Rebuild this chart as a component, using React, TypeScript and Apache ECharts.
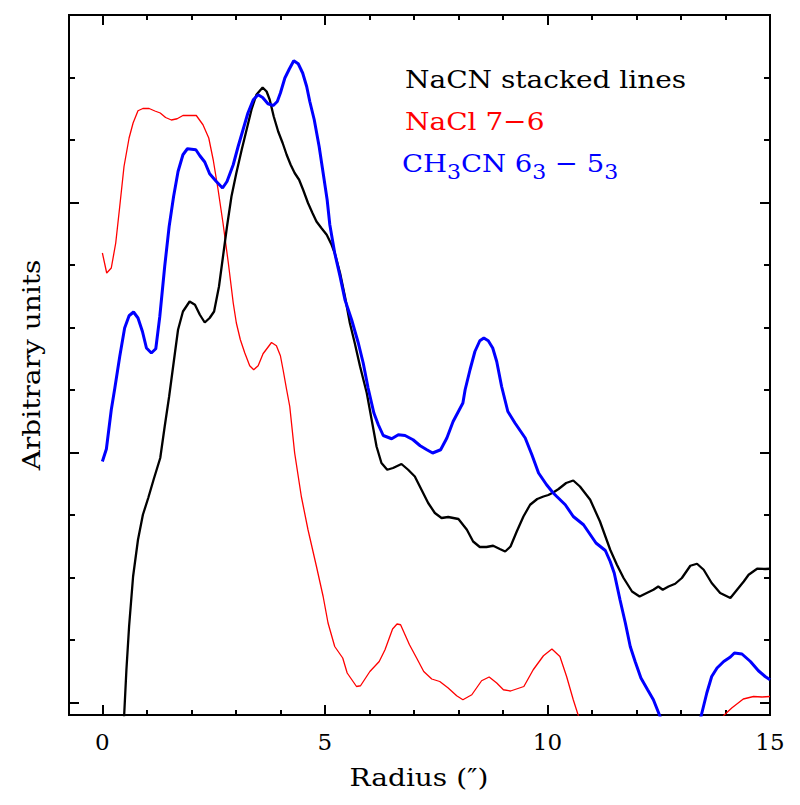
import React, { useEffect, useRef } from 'react';
import * as echarts from 'echarts';

const xMajorTicks = [0, 5, 10, 15];
const xMinorTicks = [0, 1, 2, 3, 4, 5, 6, 7, 8, 9, 10, 11, 12, 13, 14, 15];
const yMajorTicks = [0, 1, 2];
const yMinorTicks = [0, 0.25, 0.5, 0.75, 1, 1.25, 1.5, 1.75, 2, 2.25, 2.5];

const legendNaCN = 'NaCN stacked lines';
const legendNaCl = 'NaCl 7\u22126';
const xTitle = 'Radius (\u2033)';
const yTitle = 'Arbitrary units';

const nacnLine: number[][] = [
  [0.35, -0.5], [0.49, -0.049], [0.54, 0.131], [0.6, 0.304], [0.69, 0.504], [0.8, 0.651], [0.91, 0.751],
  [1.03, 0.818], [1.15, 0.891], [1.3, 0.978], [1.4, 1.104], [1.5, 1.224], [1.63, 1.398], [1.7, 1.491],
  [1.81, 1.564], [1.96, 1.604], [2.08, 1.591], [2.19, 1.551], [2.3, 1.52], [2.41, 1.538], [2.51, 1.564],
  [2.62, 1.664], [2.71, 1.784], [2.8, 1.904], [2.9, 2.024], [3.01, 2.118], [3.13, 2.211], [3.24, 2.291],
  [3.35, 2.371], [3.46, 2.431], [3.6, 2.46], [3.69, 2.444], [3.76, 2.411], [3.85, 2.344], [3.95, 2.284],
  [4.05, 2.238], [4.14, 2.191], [4.23, 2.151], [4.32, 2.118], [4.42, 2.091], [4.51, 2.051], [4.62, 1.998],
  [4.72, 1.958], [4.81, 1.924], [4.92, 1.898], [5.04, 1.871], [5.15, 1.831], [5.22, 1.798], [5.34, 1.718],
  [5.45, 1.624], [5.56, 1.518], [5.67, 1.438], [5.79, 1.344], [5.94, 1.238], [6.05, 1.131], [6.16, 1.024],
  [6.27, 0.958], [6.4, 0.931], [6.53, 0.938], [6.72, 0.954], [6.87, 0.931], [7.02, 0.904], [7.17, 0.851],
  [7.32, 0.798], [7.47, 0.758], [7.62, 0.738], [7.77, 0.742], [8.0, 0.734], [8.19, 0.691], [8.33, 0.644],
  [8.48, 0.622], [8.63, 0.622], [8.78, 0.627], [8.93, 0.614], [9.05, 0.604], [9.17, 0.624], [9.31, 0.684],
  [9.46, 0.744], [9.61, 0.791], [9.77, 0.814], [9.91, 0.824], [10.02, 0.83], [10.13, 0.84], [10.25, 0.854],
  [10.42, 0.878], [10.58, 0.888], [10.73, 0.864], [10.96, 0.811], [11.18, 0.724], [11.41, 0.611],
  [11.56, 0.551], [11.71, 0.498], [11.9, 0.444], [12.07, 0.424], [12.23, 0.438], [12.38, 0.451],
  [12.49, 0.464], [12.59, 0.451], [12.72, 0.464], [12.87, 0.475], [13.02, 0.498], [13.21, 0.547],
  [13.36, 0.555], [13.51, 0.531], [13.69, 0.478], [13.88, 0.438], [14.11, 0.418], [14.26, 0.451],
  [14.41, 0.484], [14.52, 0.511], [14.71, 0.535], [14.89, 0.534], [15, 0.535],
];

const naclLine: number[][] = [
  [0, 1.798], [0.097, 1.718], [0.2, 1.738], [0.3, 1.838], [0.39, 1.984], [0.486, 2.144], [0.6, 2.258],
  [0.69, 2.318], [0.8, 2.367], [0.91, 2.376], [1.05, 2.376], [1.18, 2.366], [1.3, 2.358], [1.42, 2.34],
  [1.55, 2.33], [1.68, 2.335], [1.81, 2.348], [1.96, 2.348], [2.11, 2.348], [2.26, 2.311], [2.39, 2.258],
  [2.49, 2.171], [2.6, 2.051], [2.71, 1.918], [2.83, 1.758], [2.94, 1.598], [3.01, 1.518], [3.1, 1.451],
  [3.2, 1.398], [3.31, 1.347], [3.4, 1.331], [3.5, 1.347], [3.61, 1.395], [3.8, 1.44], [3.91, 1.427],
  [4.0, 1.387], [4.06, 1.331], [4.14, 1.251], [4.21, 1.184], [4.32, 0.998], [4.47, 0.824], [4.62, 0.691],
  [4.81, 0.544], [4.96, 0.424], [5.07, 0.318], [5.22, 0.224], [5.4, 0.178], [5.5, 0.118], [5.71, 0.064],
  [5.8, 0.067], [6.01, 0.124], [6.22, 0.164], [6.35, 0.211], [6.52, 0.294], [6.62, 0.314], [6.7, 0.311],
  [6.9, 0.231], [7.06, 0.178], [7.22, 0.124], [7.4, 0.094], [7.58, 0.084], [7.77, 0.058], [7.96, 0.027],
  [8.1, 0.011], [8.3, 0.031], [8.52, 0.087], [8.69, 0.102], [8.86, 0.078], [9.01, 0.051], [9.17, 0.046],
  [9.47, 0.064], [9.68, 0.131], [9.91, 0.187], [10.1, 0.214], [10.28, 0.184], [10.43, 0.104],
  [10.58, 0.011], [10.7, -0.056], [11.0, -0.22], [12.3, -0.4], [13.6, -0.2], [13.96, -0.052],
  [14.14, -0.022], [14.4, 0.014], [14.63, 0.024], [14.82, 0.022], [15, 0.024],
];

const ch3cnLine: number[][] = [
  [0, 0.964], [0.09, 1.014], [0.2, 1.171], [0.28, 1.258], [0.39, 1.384], [0.5, 1.498], [0.6, 1.547],
  [0.7, 1.562], [0.8, 1.538], [0.9, 1.484], [0.99, 1.418], [1.1, 1.398], [1.2, 1.415], [1.29, 1.544],
  [1.4, 1.744], [1.5, 1.904], [1.6, 2.024], [1.7, 2.124], [1.81, 2.191], [1.91, 2.215], [2.1, 2.211],
  [2.19, 2.187], [2.3, 2.162], [2.41, 2.115], [2.56, 2.084], [2.7, 2.058], [2.8, 2.084], [2.94, 2.151],
  [3.05, 2.224], [3.16, 2.291], [3.27, 2.358], [3.39, 2.411], [3.5, 2.431], [3.6, 2.42], [3.72, 2.395],
  [3.84, 2.388], [3.93, 2.404], [4.0, 2.438], [4.1, 2.498], [4.2, 2.534], [4.3, 2.567], [4.4, 2.555],
  [4.5, 2.518], [4.59, 2.464], [4.66, 2.404], [4.76, 2.331], [4.87, 2.224], [4.96, 2.118], [5.05, 2.011],
  [5.11, 1.911], [5.22, 1.798], [5.34, 1.704], [5.45, 1.611], [5.6, 1.531], [5.75, 1.438], [5.86, 1.358],
  [5.97, 1.258], [6.1, 1.158], [6.2, 1.111], [6.31, 1.068], [6.5, 1.055], [6.65, 1.071], [6.8, 1.068],
  [6.98, 1.051], [7.14, 1.027], [7.29, 1.011], [7.42, 0.998], [7.6, 1.011], [7.74, 1.058], [7.88, 1.124],
  [8.1, 1.198], [8.15, 1.251], [8.26, 1.331], [8.37, 1.404], [8.48, 1.447], [8.57, 1.458], [8.67, 1.447],
  [8.77, 1.418], [8.86, 1.364], [8.97, 1.264], [9.11, 1.164], [9.27, 1.118], [9.5, 1.058], [9.65, 0.991],
  [9.8, 0.918], [9.98, 0.871], [10.13, 0.838], [10.21, 0.824], [10.4, 0.791], [10.58, 0.744],
  [10.81, 0.711], [11.09, 0.638], [11.3, 0.608], [11.41, 0.564], [11.5, 0.518], [11.63, 0.411],
  [11.75, 0.318], [11.86, 0.224], [11.97, 0.164], [12.1, 0.098], [12.25, 0.051], [12.38, 0.011],
  [12.53, -0.056], [13.0, -0.25], [13.45, -0.056], [13.58, 0.038], [13.69, 0.104], [13.81, 0.138],
  [13.96, 0.164], [14.11, 0.182], [14.2, 0.198], [14.37, 0.194], [14.56, 0.164], [14.74, 0.127],
  [14.89, 0.104], [15, 0.091],
];

const FONT = '"DejaVu Serif", serif';
const X_MIN = -0.75;
const X_MAX = 15;
const Y_MIN = -0.05;
const Y_MAX = 2.75;

function mkX(position: string, ticks: number[], len: number, withLabels: boolean) {
  return {
    type: 'value',
    min: X_MIN,
    max: X_MAX,
    position,
    axisLine: { show: false, onZero: false },
    splitLine: { show: false },
    axisTick: {
      show: true,
      inside: true,
      length: len,
      lineStyle: { color: '#000', width: 2 },
      customValues: ticks,
    },
    axisLabel: withLabels
      ? {
          show: true,
          customValues: ticks,
          color: '#000',
          fontFamily: FONT,
          fontSize: 23,
          margin: 15,
        }
      : { show: false },
  };
}

function mkY(position: string, ticks: number[], len: number) {
  return {
    type: 'value',
    min: Y_MIN,
    max: Y_MAX,
    position,
    axisLine: { show: false, onZero: false },
    splitLine: { show: false },
    axisTick: {
      show: true,
      inside: true,
      length: len,
      lineStyle: { color: '#000', width: 2 },
      customValues: ticks,
    },
    axisLabel: { show: false },
  };
}

export default function App() {
  const ref = useRef<HTMLDivElement>(null);
  useEffect(() => {
    if (!ref.current) return;
    const chart = echarts.init(ref.current, null, { renderer: 'svg' });
    const option: any = {
      animation: false,
      backgroundColor: '#fff',
      grid: {
        left: 69,
        right: 30,
        top: 15,
        bottom: 90,
        show: true,
        borderColor: '#000',
        borderWidth: 2,
        backgroundColor: 'transparent',
      },
      xAxis: [
        mkX('bottom', xMajorTicks, 10, true),
        mkX('bottom', xMinorTicks, 5, false),
        mkX('top', xMajorTicks, 10, false),
        mkX('top', xMinorTicks, 5, false),
      ],
      yAxis: [
        mkY('left', yMajorTicks, 10),
        mkY('left', yMinorTicks, 6),
        mkY('right', yMajorTicks, 10),
        mkY('right', yMinorTicks, 6),
      ],
      series: [
        {
          type: 'line',
          name: 'NaCN',
          data: nacnLine,
          showSymbol: false,
          clip: true,
          lineStyle: { color: '#000', width: 2.3 },
          z: 3,
        },
        {
          type: 'line',
          name: 'NaCl',
          data: naclLine,
          showSymbol: false,
          clip: true,
          lineStyle: { color: '#ff0000', width: 1.3 },
          z: 2,
        },
        {
          type: 'line',
          name: 'CH3CN',
          data: ch3cnLine,
          showSymbol: false,
          clip: true,
          lineStyle: { color: '#0000ff', width: 3 },
          z: 4,
        },
      ],
      graphic: [
        {
          type: 'text',
          x: 405,
          y: 79,
          scaleX: 1.12,
          style: {
            text: legendNaCN,
            fill: '#000',
            fontFamily: FONT,
            fontSize: 25,
            align: 'left',
            verticalAlign: 'middle',
          },
        },
        {
          type: 'text',
          x: 405,
          y: 121.5,
          scaleX: 1.12,
          style: {
            text: legendNaCl,
            fill: '#ff0000',
            fontFamily: FONT,
            fontSize: 25,
            align: 'left',
            verticalAlign: 'middle',
          },
        },
        {
          type: 'text',
          x: 402,
          y: 163,
          scaleX: 1.1,
          style: {
            text: '{m|CH}{s|3}{m|CN 6}{s|3}{m| \u2212 5}{s|3}',
            align: 'left',
            verticalAlign: 'middle',
            rich: {
              m: { fill: '#0000ff', fontFamily: FONT, fontSize: 25, lineHeight: 38, verticalAlign: 'middle' },
              s: { fill: '#0000ff', fontFamily: FONT, fontSize: 20, lineHeight: 14, verticalAlign: 'bottom' },
            },
          },
        },
        {
          type: 'text',
          x: 419,
          y: 777,
          scaleX: 1.12,
          style: {
            text: xTitle,
            fill: '#000',
            fontFamily: FONT,
            fontSize: 25,
            align: 'center',
            verticalAlign: 'middle',
          },
        },
        {
          type: 'text',
          x: 31,
          y: 365,
          rotation: Math.PI / 2,
          scaleX: 1.12,
          style: {
            text: yTitle,
            fill: '#000',
            fontFamily: FONT,
            fontSize: 25,
            align: 'center',
            verticalAlign: 'middle',
          },
        },
      ],
    };
    chart.setOption(option);
    return () => chart.dispose();
  }, []);
  return (
    <div
      ref={ref}
      style={{ position: 'absolute', left: 0, top: 0, width: 800, height: 805 }}
    />
  );
}
